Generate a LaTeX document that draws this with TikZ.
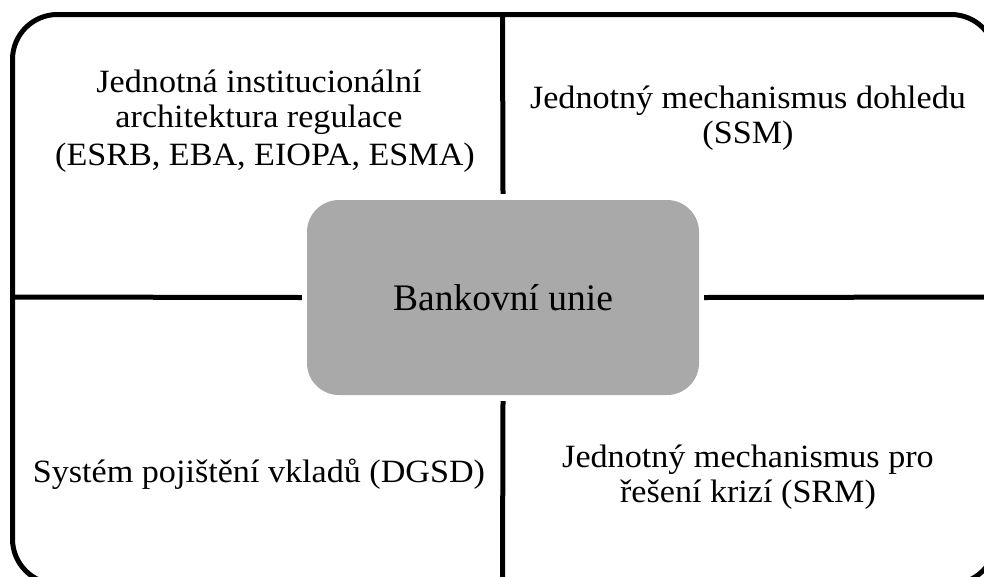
\documentclass[tikz,border=0pt]{standalone}
\usepackage{fontspec}
\setmainfont{Liberation Serif}
\newfontfamily\quadfont[FakeStretch=1.05]{Liberation Serif}
\definecolor{boxgray}{RGB}{169,169,169}
\begin{document}
\begin{tikzpicture}[x=1pt,y=-1pt,
  quadtext/.style={inner sep=0pt,anchor=base,align=center,
    font=\quadfont\fontsize{32.5}{35}\selectfont},
  divider/.style={line width=5pt,draw=black},
  centerbox/.style={rounded corners=32pt,fill=boxgray,draw=none,
    minimum width=392pt,minimum height=195pt,
    font=\fontsize{37.5}{42}\selectfont}]
\useasboundingbox (0,0) rectangle (984,576);
\begin{scope}
\clip (0,0) rectangle (984,576);
\node[draw,line width=5pt,rounded corners=45pt,minimum width=983.5pt,minimum height=569.5pt,inner sep=0pt]
  (frame) at (504.25,299.25) {};
\coordinate (ftop) at (502.5,14.5);
\coordinate (fbot) at (502.5,584);
\coordinate (fleft) at (12.5,297);
\coordinate (fright) at (996,297);
\node[centerbox] (bu) at (503,297.5) {Bankovní unie};
\draw[divider] (ftop) -- ([yshift=6pt]bu.north);
\draw[divider] (fbot) -- ([yshift=-6pt]bu.south);
\draw[divider] (fleft) -- ([xshift=-5pt]bu.west);
\draw[divider] (fright) -- ([xshift=5pt]bu.east);
\end{scope}
\node[quadtext] (tl) at (259,127) {Jednotná institucionální\\architektura regulace};
\node[quadtext] (tl2) at (265,165) {(ESRB, EBA, EIOPA, ESMA)};
\node[quadtext] (tr) at (748,143) {Jednotný mechanismus dohledu\\(SSM)};
\node[quadtext] (bl) at (259,482) {Systém pojištění vkladů (DGSD)};
\node[quadtext] (br) at (748,502) {Jednotný mechanismus pro\\řešení krizí (SRM)};
\end{tikzpicture}
\end{document}
